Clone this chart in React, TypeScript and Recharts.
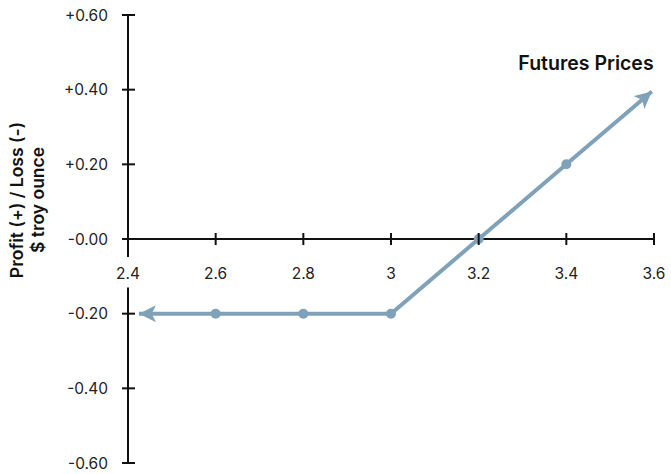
import { LineChart, Line, XAxis, YAxis, ReferenceLine } from 'recharts';

// futures price ($) vs profit/loss per troy ounce; first/last entries are the arrow tips
const futuresPrices = [2.425, 2.6, 2.8, 3.0, 3.2, 3.4, 3.595];
const profitLoss = [-0.2, -0.2, -0.2, -0.2, 0, 0.2, 0.395];
const xTicks = [2.4, 2.6, 2.8, 3, 3.2, 3.4, 3.6];
const yTicks = [-0.6, -0.4, -0.2, 0, 0.2, 0.4, 0.6];

const data = futuresPrices.map((price, i) => ({ price, pl: profitLoss[i] }));

const WIDTH = 671;
const HEIGHT = 474;
const MARGIN = { top: 15, right: 17, bottom: 0, left: 0 };
const X_AXIS_H = 11;
const PLOT_H = HEIGHT - MARGIN.top - MARGIN.bottom - X_AXIS_H;

const LINE_COLOR = '#7fa2b9';
const TEXT_COLOR = '#222';
const FONT = 'Inter, "Open Sans", sans-serif';

const formatY = (v: number) => {
  if (v === 0) return '-0.00';
  return `${v > 0 ? '+' : '-'}${Math.abs(v).toFixed(2)}`;
};

// x ticks are drawn on the zero line, which sits at the middle of the plot
const XTick = (props: any) => {
  const { x, y, payload } = props;
  const zy = y - PLOT_H / 2;
  return (
    <g>
      <line x1={x} x2={x} y1={zy - 6} y2={zy + 6} stroke="#111" strokeWidth={2} />
      <text
        x={x}
        y={zy + 40}
        textAnchor="middle"
        fill={TEXT_COLOR}
        fontSize={15.5}
        fontFamily={FONT}
      >
        {payload.value}
      </text>
    </g>
  );
};

const YTick = (props: any) => {
  const { x, y, payload } = props;
  return (
    <g>
      <line x1={x - 6} x2={x + 7} y1={y} y2={y} stroke="#111" strokeWidth={2} />
      <text
        x={x - 20}
        y={y}
        textAnchor="end"
        dominantBaseline="central"
        fill={TEXT_COLOR}
        fontSize={15.5}
        fontFamily={FONT}
      >
        {formatY(payload.value)}
      </text>
    </g>
  );
};

const renderDot = (props: any) => {
  const { cx, cy, index } = props;
  if (index === 0 || index === data.length - 1) return <g key={`d${index}`} />;
  return <circle key={`d${index}`} cx={cx} cy={cy} r={5} fill={LINE_COLOR} />;
};

export default function App() {
  return (
    <div style={{ position: 'absolute', left: 0, top: 0, background: '#fff' }}>
      <LineChart width={WIDTH} height={HEIGHT} data={data} margin={MARGIN}>
        <defs>
          <marker
            id="arrowHead"
            viewBox="0 0 16 16"
            refX={16}
            refY={8}
            markerWidth={17}
            markerHeight={17}
            markerUnits="userSpaceOnUse"
            orient="auto-start-reverse"
          >
            <path d="M0,0 L16,8 L0,16 L4,8 Z" fill={LINE_COLOR} />
          </marker>
        </defs>
        <XAxis
          dataKey="price"
          type="number"
          domain={[2.4, 3.6]}
          ticks={xTicks}
          height={X_AXIS_H}
          axisLine={false}
          tickLine={false}
          tickSize={0}
          tickMargin={0}
          tick={<XTick />}
          interval={0}
        />
        <YAxis
          type="number"
          domain={[-0.6, 0.6]}
          ticks={yTicks}
          width={128}
          axisLine={false}
          tickLine={false}
          tickSize={0}
          tickMargin={0}
          tick={<YTick />}
          interval={0}
        />
        {/* y axis is broken where the "2.4" label sits */}
        <ReferenceLine
          segment={[{ x: 2.4, y: 0.6 }, { x: 2.4, y: -0.048 }]}
          stroke="#111"
          strokeWidth={2}
          ifOverflow="visible"
        />
        <ReferenceLine
          segment={[{ x: 2.4, y: -0.13 }, { x: 2.4, y: -0.6 }]}
          stroke="#111"
          strokeWidth={2}
          ifOverflow="visible"
        />
        <ReferenceLine y={0} stroke="#111" strokeWidth={2} />
        <Line
          type="linear"
          dataKey="pl"
          stroke={LINE_COLOR}
          strokeWidth={4}
          dot={renderDot}
          activeDot={false}
          markerStart="url(#arrowHead)"
          markerEnd="url(#arrowHead)"
          isAnimationActive={false}
        />
        <text
          x={586}
          y={70}
          textAnchor="middle"
          fill="#111"
          fontSize={19.5}
          fontWeight={600}
          fontFamily={FONT}
        >
          Futures Prices
        </text>
        <text
          transform="rotate(-90) translate(-200 0)"
          textAnchor="middle"
          fill="#111"
          fontSize={17.5}
          fontWeight={600}
          fontFamily={FONT}
        >
          <tspan x={0} y={23}>Profit (+) / Loss (-)</tspan>
          <tspan x={0} y={44}>$ troy ounce</tspan>
        </text>
      </LineChart>
    </div>
  );
}
